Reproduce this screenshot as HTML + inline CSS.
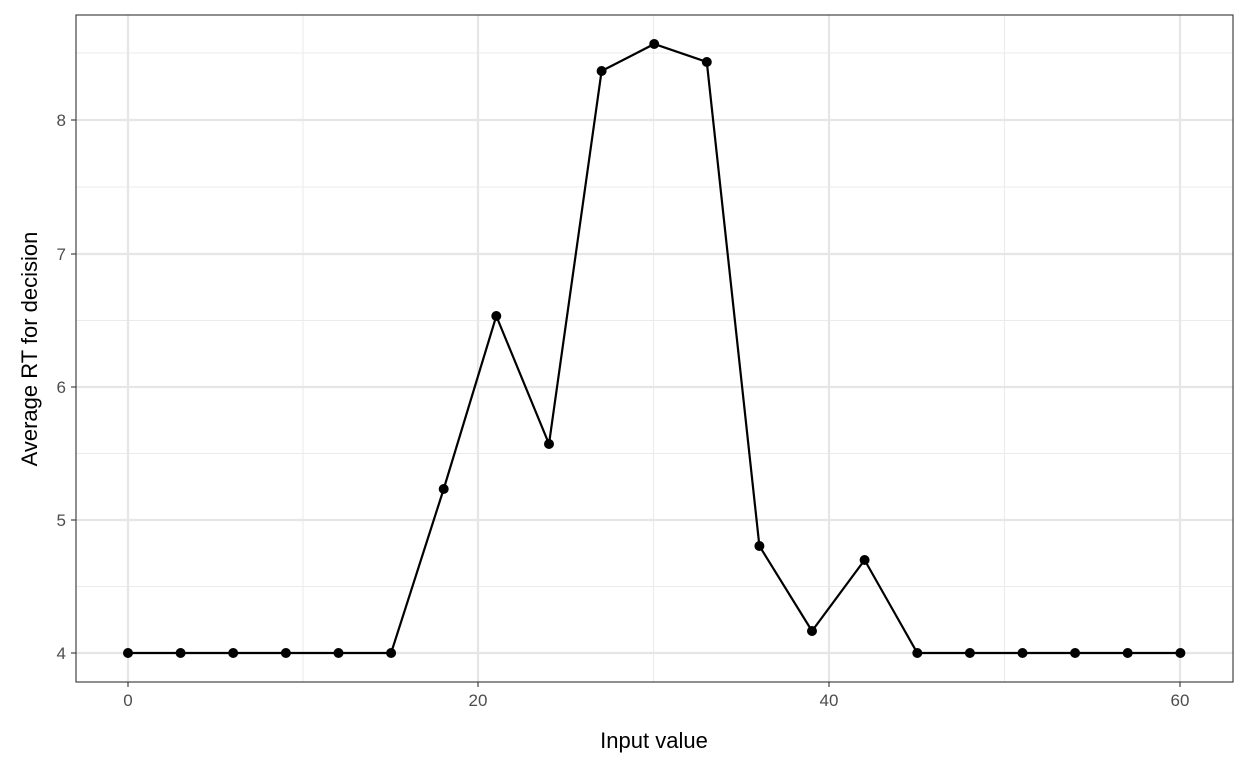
<!DOCTYPE html>
<html><head><meta charset="utf-8"><style>
html,body{margin:0;padding:0;background:#fff;}
svg{display:block;font-family:"Liberation Sans",sans-serif;}
</style></head><body>
<svg width="1248" height="768" viewBox="0 0 1248 768">
<rect x="0" y="0" width="1248" height="768" fill="#fff"/>
<g stroke="#ebebeb" stroke-width="1.1">
<line x1="76" x2="1233" y1="586.5" y2="586.5"/>
<line x1="76" x2="1233" y1="453.5" y2="453.5"/>
<line x1="76" x2="1233" y1="320.5" y2="320.5"/>
<line x1="76" x2="1233" y1="187" y2="187"/>
<line x1="76" x2="1233" y1="53" y2="53"/>
<line y1="15" y2="682" x1="303" x2="303"/>
<line y1="15" y2="682" x1="653.5" x2="653.5"/>
<line y1="15" y2="682" x1="1004.5" x2="1004.5"/>
</g>
<g stroke="#e6e6e6" stroke-width="2.2">
<line x1="76" x2="1233" y1="653" y2="653"/>
<line x1="76" x2="1233" y1="520" y2="520"/>
<line x1="76" x2="1233" y1="387" y2="387"/>
<line x1="76" x2="1233" y1="254" y2="254"/>
<line x1="76" x2="1233" y1="120" y2="120"/>
<line y1="15" y2="682" x1="128" x2="128"/>
<line y1="15" y2="682" x1="478" x2="478"/>
<line y1="15" y2="682" x1="829" x2="829"/>
<line y1="15" y2="682" x1="1180" x2="1180"/>
</g>
<polyline fill="none" stroke="#000" stroke-width="2.2" points="128,653 180.6,653 233.2,653 285.9,653 338.5,653 391.1,653 443.7,489 496.3,316 549,444 601.6,71 654.2,44 706.8,62 759.4,546 812,631 864.6,560 917.3,653 969.9,653 1022.5,653 1075.1,653 1127.7,653 1180.4,653"/>
<g fill="#000">
<circle cx="128" cy="653" r="5"/><circle cx="180.6" cy="653" r="5"/><circle cx="233.2" cy="653" r="5"/><circle cx="285.9" cy="653" r="5"/><circle cx="338.5" cy="653" r="5"/><circle cx="391.1" cy="653" r="5"/><circle cx="443.7" cy="489" r="5"/><circle cx="496.3" cy="316" r="5"/><circle cx="549" cy="444" r="5"/><circle cx="601.6" cy="71" r="5"/><circle cx="654.2" cy="44" r="5"/><circle cx="706.8" cy="62" r="5"/><circle cx="759.4" cy="546" r="5"/><circle cx="812" cy="631" r="5"/><circle cx="864.6" cy="560" r="5"/><circle cx="917.3" cy="653" r="5"/><circle cx="969.9" cy="653" r="5"/><circle cx="1022.5" cy="653" r="5"/><circle cx="1075.1" cy="653" r="5"/><circle cx="1127.7" cy="653" r="5"/><circle cx="1180.4" cy="653" r="5"/>
</g>
<rect x="76" y="15" width="1157" height="667" fill="none" stroke="#333" stroke-width="1.1"/>
<g stroke="#333" stroke-width="1.1">
<line x1="71" x2="76" y1="653" y2="653"/><line x1="71" x2="76" y1="520" y2="520"/><line x1="71" x2="76" y1="387" y2="387"/><line x1="71" x2="76" y1="254" y2="254"/><line x1="71" x2="76" y1="120" y2="120"/>
<line y1="682" y2="687" x1="128" x2="128"/><line y1="682" y2="687" x1="478" x2="478"/><line y1="682" y2="687" x1="829" x2="829"/><line y1="682" y2="687" x1="1180" x2="1180"/>
</g>
<g fill="#4d4d4d" font-size="17" text-anchor="end">
<text x="66" y="659">4</text><text x="66" y="526">5</text><text x="66" y="393">6</text><text x="66" y="260">7</text><text x="66" y="126">8</text>
</g>
<g fill="#4d4d4d" font-size="17" text-anchor="middle">
<text x="128" y="706">0</text><text x="478" y="706">20</text><text x="829" y="706">40</text><text x="1180" y="706">60</text>
</g>
<text x="654" y="748" font-size="22" text-anchor="middle" fill="#000">Input value</text>
<text transform="translate(37,349) rotate(-90)" font-size="22" text-anchor="middle" fill="#000">Average RT for decision</text>
</svg>
</body></html>
